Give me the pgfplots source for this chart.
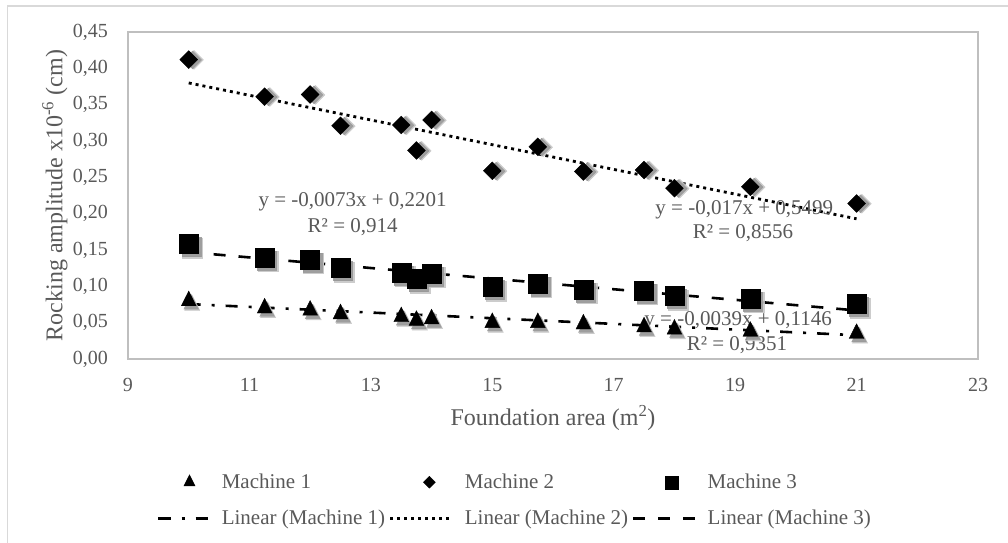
\documentclass[border=0pt]{standalone}
\usepackage{pgfplots}
\usepackage{pgfplotstable}
\pgfplotsset{compat=1.18}
\usepackage{fontspec}
\setmainfont{Liberation Serif}
\definecolor{txt}{HTML}{595959}
\definecolor{axl}{HTML}{BFBFBF}
\definecolor{brd}{HTML}{D9D9D9}

\pgfplotsset{
  legA/.style={legend image code/.code={\draw[##1, mark size=6.5bp, mark repeat=2, mark phase=2] plot coordinates {(0bp,0bp) (31bp,0bp) (58bp,0bp)};}},
  legB/.style={legend image code/.code={\draw[##1, mark size=4.2bp, mark repeat=2, mark phase=2] plot coordinates {(0bp,0bp) (39bp,0bp) (58bp,0bp)};}},
  legC/.style={legend image code/.code={\draw[##1, mark size=6.5bp, mark repeat=2, mark phase=2] plot coordinates {(0bp,0bp) (38bp,0bp) (58bp,0bp)};}},
  legL/.style={legend image code/.code={\draw[##1] (0bp,0bp) -- (#1,0bp);}},
  shad/.style={forget plot, only marks, color=black!22, opacity=0.9},
  shad2/.style={forget plot, only marks, color=black!40, opacity=0.9},
}

\pgfplotstableread{
x y
10 0.080
11.25 0.070
12 0.067
12.5 0.062
13.5 0.058
13.75 0.053
14 0.055
15 0.050
15.75 0.050
16.5 0.048
17.5 0.044
18 0.041
19.25 0.038
21 0.035
}\mone
\pgfplotstableread{
x y
10 0.412
11.25 0.361
12 0.364
12.5 0.321
13.5 0.322
13.75 0.287
14 0.329
15 0.259
15.75 0.292
16.5 0.258
17.5 0.260
18 0.235
19.25 0.237
21 0.214
}\mtwo
\pgfplotstableread{
x y
10 0.158
11.25 0.140
12 0.137
12.5 0.125
13.5 0.119
13.75 0.110
14 0.118
15 0.099
15.75 0.104
16.5 0.096
17.5 0.094
18 0.087
19.25 0.0835
21 0.0757
}\mthree

\begin{document}
\begin{tikzpicture}
\begin{axis}[
  at={(128bp,184bp)}, anchor=south west,
  scale only axis, width=850bp, height=327bp,
  xmin=9, xmax=23, ymin=0, ymax=0.45,
  xtick={9,11,13,15,17,19,21,23},
  ytick={0,0.05,0.10,0.15,0.20,0.25,0.30,0.35,0.40,0.45},
  major tick length=0pt,
  axis line style={axl, line width=1.2bp},
  tick label style={font=\fontsize{20bp}{24bp}\selectfont, text=txt},
  /pgf/number format/assume math mode=true,
  /pgf/number format/use comma,
  yticklabel style={/pgf/number format/fixed, /pgf/number format/fixed zerofill, /pgf/number format/precision=2, inner sep=0pt, xshift=-20bp},
  xticklabel style={inner sep=0pt, yshift=-19bp},
  xlabel={Foundation area (m\textsuperscript{2})},
  ylabel={Rocking amplitude x10\textsuperscript{-6} (cm)},
  label style={font=\fontsize{24bp}{28bp}\selectfont, text=txt},
  x label style={at={(axis description cs:0.5,-0.1804)}, anchor=center},
  y label style={at={(axis description cs:-0.0859,0.5)}, anchor=center},
  clip=false,
  legend columns=3,
  legend style={draw=none, fill=none, font=\fontsize{21bp}{25bp}\selectfont, text=txt,
    at={(axis description cs:0,0)}, anchor=north west, xshift=29bp, yshift=-115bp,
    inner sep=0pt, nodes={inner sep=0pt}, cells={anchor=west}, row sep=20bp,
    /tikz/every odd column/.append style={column sep=11bp},
    /tikz/every even column/.append style={column sep=4bp}},
]
% shadows
\addplot[shad, mark=triangle*, mark size=8.8bp, mark options={yscale=1.15,xshift=3.5bp,yshift=-4bp}] table {\mone};
\addplot[shad2, mark=triangle*, mark size=8.5bp, mark options={yscale=1.15,xshift=2.5bp,yshift=-3bp}] table {\mone};
\addplot[shad, mark=square*, mark size=6.7bp, mark options={rotate=45,xshift=3.5bp,yshift=-4bp}] table {\mtwo};
\addplot[shad2, mark=square*, mark size=6.3bp, mark options={rotate=45,xshift=2.5bp,yshift=-3bp}] table {\mtwo};
\addplot[shad, mark=square*, mark size=10bp, mark options={xshift=3.5bp,yshift=-4bp}] table {\mthree};
\addplot[shad2, mark=square*, mark size=9.5bp, mark options={xshift=2.5bp,yshift=-3bp}] table {\mthree};
% data
\addplot[only marks, mark=triangle*, mark size=8.5bp, mark options={yscale=1.15}, color=black, legA] table {\mone};
\addlegendentry{Machine 1}
\addplot[only marks, mark=square*, mark size=6.3bp, color=black, mark options={rotate=45}, legB] table {\mtwo};
\addlegendentry{Machine 2}
\addplot[only marks, mark=square*, mark size=9.5bp, color=black, legC] table {\mthree};
\addlegendentry{Machine 3}
% trend lines
\addplot[black, line width=2.6bp, dash pattern=on 12bp off 11bp on 3bp off 11bp, legL=51bp] coordinates {(10,0.0756) (21,0.0327)};
\addlegendentry{Linear (Machine 1)}
\addplot[black, line width=2.8bp, dash pattern=on 3bp off 4bp, legL=62bp] coordinates {(10,0.3799) (21,0.1929)};
\addlegendentry{Linear (Machine 2)}
\addplot[black, line width=2.6bp, dash pattern=on 12bp off 13bp, legL=62bp] coordinates {(10,0.1471) (21,0.0668)};
\addlegendentry{Linear (Machine 3)}
% equations
\begin{scope}[every node/.style={font=\fontsize{21bp}{25bp}\selectfont, text=txt, inner sep=0pt}]
\node at (axis cs:12.7,0.216) {y = -0,0073x + 0,2201};
\node at (axis cs:12.7,0.182) {R² = 0,914};
\node at (axis cs:19.15,0.206) {y = -0,017x + 0,5499};
\node at (axis cs:19.13,0.173) {R² = 0,8556};
\node at (axis cs:19.05,0.0527) {y = -0,0039x + 0,1146};
\node at (axis cs:19.03,0.0193) {R² = 0,9351};
\end{scope}
\end{axis}
\draw[brd, line width=1.5bp] (7.5bp,-5bp) -- (7.5bp,537bp) -- (1015bp,537bp);
\pgfresetboundingbox
\useasboundingbox (0,0) rectangle (1008bp,543bp);
\end{tikzpicture}
\end{document}
